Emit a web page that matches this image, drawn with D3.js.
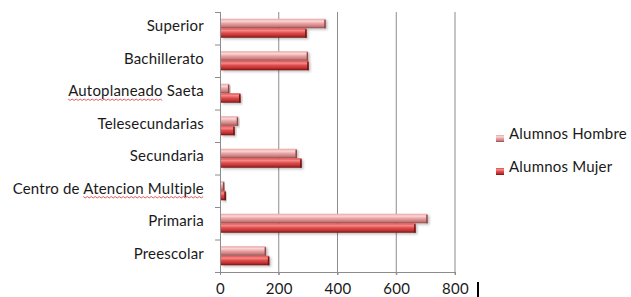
<!DOCTYPE html>
<html>
<head>
<meta charset="utf-8">
<script src="https://cdn.jsdelivr.net/npm/d3@7"></script>
<style>
  body { margin: 0; background: #fff; }
  text { font-family: Lato, "Open Sans", sans-serif; fill: #1a1a1a; }
</style>
</head>
<body>
<svg width="631" height="297"></svg>
<script>
// niveles educativos, de arriba hacia abajo
var categories = ["Superior", "Bachillerato", "Autoplaneado Saeta", "Telesecundarias",
                  "Secundaria", "Centro de Atencion Multiple", "Primaria", "Preescolar"];
var series = ["Alumnos Hombre", "Alumnos Mujer"];
var hombres = [360, 300, 32, 62, 262, 15, 707, 157];
var mujeres = [295, 302, 70, 50, 278, 20, 666, 168];
var xTicks = [0, 200, 400, 600, 800];
// palabras con subrayado ondulado (corrector ortografico)
var squiggles = {"Autoplaneado Saeta": "Autoplaneado", "Centro de Atencion Multiple": "Atencion Multiple"};

var svg = d3.select("svg");
var plotL = 220, plotR = 455, plotT = 12, plotB = 272;

var x = d3.scaleLinear().domain([0, 800]).range([plotL, plotR]);
var y = d3.scaleBand().domain(categories).range([plotT, plotB]);
var sub = d3.scaleBand().domain(series).range([0, 19]);

var colors = {
  "Alumnos Hombre": ["#fbd6d6", "#e9a3a3", "#c97c7c", "#8a4a4a"],
  "Alumnos Mujer":  ["#f58a8a", "#e04c4c", "#b82e2e", "#6e1414"]
};

// gradientes verticales para el efecto 3D
var defs = svg.append("defs");
series.forEach(function(s, i){
  var g = defs.append("linearGradient").attr("id", "g" + i)
              .attr("x1", 0).attr("y1", 0).attr("x2", 0).attr("y2", 1);
  var c = colors[s];
  g.append("stop").attr("offset", "0%").attr("stop-color", c[1]);
  g.append("stop").attr("offset", "25%").attr("stop-color", c[0]);
  g.append("stop").attr("offset", "50%").attr("stop-color", c[1]);
  g.append("stop").attr("offset", "80%").attr("stop-color", c[2]);
  g.append("stop").attr("offset", "100%").attr("stop-color", c[3]);
});
var sh = defs.append("filter").attr("id", "shadow")
             .attr("x", "-5%").attr("y", "-30%").attr("width", "115%").attr("height", "180%");
sh.append("feDropShadow").attr("dx", 1.5).attr("dy", 1.5).attr("stdDeviation", 1)
  .attr("flood-color", "#000").attr("flood-opacity", 0.25);

// lineas de division
svg.append("g").selectAll("line").data(xTicks.slice(1)).enter().append("line")
   .attr("x1", function(d){ return x(d); }).attr("x2", function(d){ return x(d); })
   .attr("y1", plotT).attr("y2", plotB + 3)
   .attr("stroke", "#8c8c8c").attr("stroke-width", 1);

// ejes
var xAxis = svg.append("g").attr("transform", "translate(0," + plotB + ")")
   .call(d3.axisBottom(x).tickValues(xTicks).tickSize(3).tickPadding(8));
xAxis.select(".domain").attr("stroke", "#8c8c8c").attr("d", "M" + (plotL - 5) + ",0.5H" + plotR);
xAxis.selectAll(".tick line").attr("stroke", "#8c8c8c");
xAxis.selectAll("text").attr("font-size", 15).style("font-family", "Lato, sans-serif")
     .attr("fill", "#1a1a1a").attr("letter-spacing", 0.3);

var yAxis = svg.append("g").attr("transform", "translate(" + plotL + ",0)");
yAxis.append("line").attr("x1", 0.5).attr("x2", 0.5).attr("y1", plotT).attr("y2", plotB)
     .attr("stroke", "#8c8c8c");
yAxis.selectAll("line.tk").data(d3.range(categories.length + 1)).enter().append("line")
     .attr("class", "tk")
     .attr("x1", -5).attr("x2", 0)
     .attr("y1", function(i){ return plotT + i * y.step() + 0.5; })
     .attr("y2", function(i){ return plotT + i * y.step() + 0.5; })
     .attr("stroke", "#8c8c8c");

var labels = yAxis.selectAll("text.cat").data(categories).enter().append("text")
     .attr("class", "cat")
     .attr("x", -16)
     .attr("y", function(d){ return y(d) + y.bandwidth() / 2 - 2.5; })
     .attr("dy", "0.35em")
     .attr("text-anchor", "end")
     .attr("font-size", 15)
     .attr("letter-spacing", 0.2)
     .text(function(d){ return d; });

// subrayado ondulado rojo
labels.each(function(d){
  if (!squiggles[d]) return;
  var start = d.indexOf(squiggles[d]);
  var x0 = this.getStartPositionOfChar(start).x;
  var x1 = this.getEndPositionOfChar(start + squiggles[d].length - 1).x;
  var yy = y(d) + y.bandwidth() / 2 + 6;
  var pts = [];
  for (var px = x0, k = 0; px <= x1; px += 2, k++) pts.push([px, yy + (k % 2 ? 1.2 : -0.2)]);
  yAxis.append("path").attr("d", d3.line()(pts))
       .attr("fill", "none").attr("stroke", "#e03030").attr("stroke-width", 0.8);
});

// barras
var rows = categories.map(function(c, i){
  return {cat: c, vals: [{s: series[0], v: hombres[i], k: 0}, {s: series[1], v: mujeres[i], k: 1}]};
});
var bars = svg.append("g").selectAll("g").data(rows).enter().append("g")
   .attr("transform", function(d){ return "translate(0," + (y(d.cat) + (y.bandwidth() - 19) / 2) + ")"; });
var bar = bars.selectAll("g").data(function(d){ return d.vals; }).enter().append("g")
   .attr("filter", "url(#shadow)");
bar.append("rect")
   .attr("x", plotL + 1)
   .attr("y", function(d){ return sub(d.s); })
   .attr("width", function(d){ return Math.max(1, x(d.v) - plotL - 1); })
   .attr("height", sub.bandwidth())
   .attr("fill", function(d){ return "url(#g" + d.k + ")"; });
// cara lateral
bar.append("rect")
   .attr("x", function(d){ return x(d.v) - 1.5; })
   .attr("y", function(d){ return sub(d.s) + 1; })
   .attr("width", 1.5)
   .attr("height", sub.bandwidth() - 1)
   .attr("fill", function(d){ return colors[d.s][3]; });

// leyenda
var legend = svg.append("g").selectAll("g").data(series).enter().append("g")
   .attr("transform", function(d, i){ return "translate(496," + (134 + i * 33) + ")"; });
legend.append("rect").attr("y", 1).attr("width", 8).attr("height", 7)
   .attr("fill", function(d, i){ return "url(#g" + i + ")"; });
legend.append("text").attr("x", 13).attr("y", 0).attr("dy", "0.35em")
   .attr("font-size", 15).attr("letter-spacing", 0.2).text(function(d){ return d; });

// marca negra junto al eje
svg.append("line").attr("x1", 478).attr("x2", 478).attr("y1", 282).attr("y2", 297)
   .attr("stroke", "#000").attr("stroke-width", 2);
</script>
</body>
</html>
